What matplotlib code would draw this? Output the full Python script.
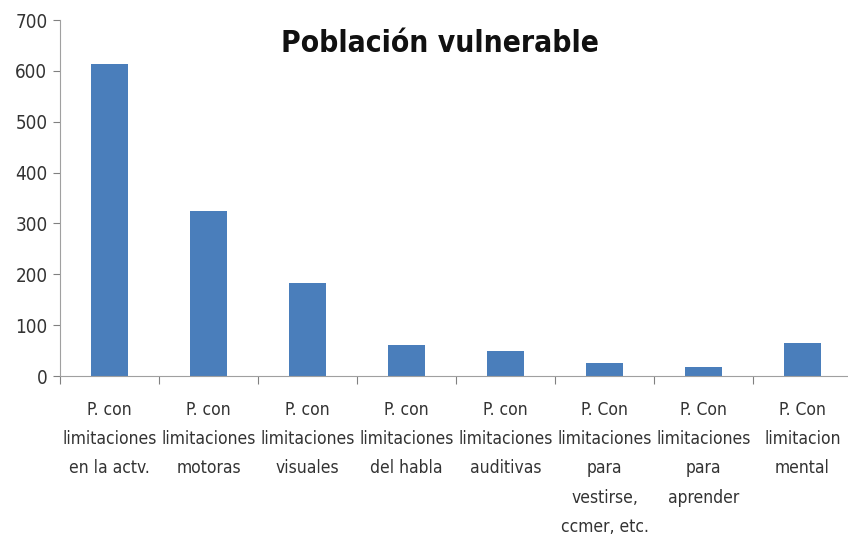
import matplotlib.pyplot as plt
import numpy as np

categories = [
    'P. con\nlimitaciones\nen la actv.',
    'P. con\nlimitaciones\nmotoras',
    'P. con\nlimitaciones\nvisuales',
    'P. con\nlimitaciones\ndel habla',
    'P. con\nlimitaciones\nauditivas',
    'P. Con\nlimitaciones\npara\nvestirse,\nccmer, etc.',
    'P. Con\nlimitaciones\npara\naprender',
    'P. Con\nlimitacion\nmental',
]
values = [613, 324, 183, 61, 50, 25, 18, 65]

font = 'DejaVu Sans'
fig = plt.figure(figsize=(8.48, 5.44), dpi=100)
ax = fig.add_axes([60 / 848, 1 - 376 / 544, 792 / 848, 356 / 544])

x = np.arange(len(categories))
ax.bar(x, values, width=0.38, color='#4a7ebb')

ax.set_xlim(-0.5, len(categories) - 0.5)
ax.set_ylim(0, 700)
ax.set_yticks(range(0, 701, 100))
ax.tick_params(axis='y', labelsize=13.5, colors='#808080', labelcolor='#333333', length=5, pad=4)
for t in ax.get_yticklabels():
    t.set_fontstretch('condensed')

# category boundaries as tick marks, labels centered at bars
ax.set_xticks(np.arange(-0.5, len(categories), 1.0))
ax.set_xticklabels([])
ax.tick_params(axis='x', colors='#808080', length=6, direction='out')
for i, lab in enumerate(categories):
    ax.text(i, -0.07, lab, transform=ax.get_xaxis_transform(), ha='center', va='top',
            fontsize=12.5, color='#333333', linespacing=1.8, fontstretch='condensed', family=font)

for s in ['top', 'right']:
    ax.spines[s].set_visible(False)
ax.spines['left'].set_color('#a0a0a0')
ax.spines['bottom'].set_color('#a0a0a0')

fig.text(440 / 848, 1 - 44 / 544, 'Población vulnerable', ha='center', va='center',
         fontsize=21.5, fontweight='bold', color='#111111', fontstretch='condensed', family=font)

fig.savefig('out.png', dpi=100)
